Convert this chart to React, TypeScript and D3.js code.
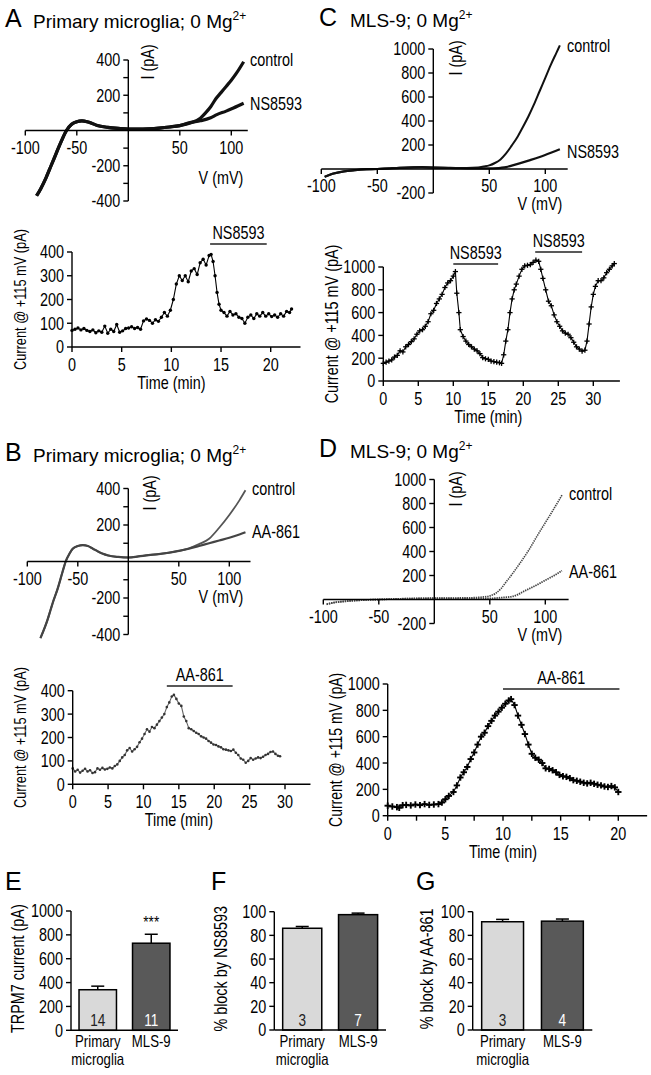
import * as d3 from "d3";
import type { ReactNode } from "react";

type Pt = [number, number];

const FONT = "'Liberation Sans', Arial, sans-serif";
const SX = 0.8; // horizontal squeeze, stands in for Arial Narrow

// ---------- I-V curves (V mV, I pA) ----------
const ivA_control: Pt[] = [[-89,-370],[-85,-330],[-80,-270],[-75,-200],[-70,-130],[-65,-60],[-60,0],[-55,35],[-50,50],[-45,55],[-40,50],[-35,40],[-30,28],[-20,18],[-10,12],[0,8],[10,8],[20,10],[30,14],[40,20],[50,28],[60,42],[70,70],[75,100],[80,135],[85,180],[90,215],[95,250],[100,285],[105,325],[112,390]];
const ivA_ns: Pt[] = [[-89,-370],[-85,-330],[-80,-270],[-75,-200],[-70,-130],[-65,-60],[-60,0],[-55,35],[-50,50],[-45,55],[-40,50],[-35,40],[-30,28],[-20,18],[-10,12],[0,8],[10,8],[20,10],[30,14],[40,20],[50,28],[60,45],[70,55],[80,72],[86,90],[95,110],[102,128],[112,155]];
const ivC_control: Pt[] = [[-97,-65],[-90,-40],[-80,-20],[-70,-10],[-60,-3],[-50,0],[-40,5],[-30,10],[-20,13],[-10,15],[0,12],[10,10],[20,8],[30,8],[40,12],[45,20],[50,30],[55,50],[60,80],[65,130],[70,195],[75,265],[80,350],[85,440],[90,540],[95,650],[100,760],[105,870],[110,970],[113,1030]];
const ivC_ns: Pt[] = [[-97,-65],[-90,-40],[-80,-20],[-70,-10],[-60,-3],[-50,0],[-40,5],[-30,10],[-20,13],[-10,15],[0,12],[10,10],[20,8],[30,6],[40,5],[50,6],[60,10],[65,15],[70,28],[77,47],[85,70],[95,100],[105,135],[113,165]];
const ivB_control: Pt[] = [[-87,-420],[-80,-320],[-77,-266],[-75,-230],[-70,-150],[-65,-55],[-62,0],[-58,45],[-55,70],[-50,85],[-45,90],[-40,85],[-35,70],[-30,55],[-25,42],[-20,33],[-10,25],[0,22],[10,28],[20,35],[30,40],[40,48],[50,58],[60,72],[70,95],[80,125],[90,185],[100,255],[110,335],[116,390]];
const ivB_aa: Pt[] = [[-87,-420],[-80,-320],[-77,-266],[-75,-230],[-70,-150],[-65,-55],[-62,0],[-58,45],[-55,70],[-50,85],[-45,90],[-40,85],[-35,70],[-30,55],[-25,42],[-20,33],[-10,25],[0,22],[10,28],[20,35],[30,40],[40,48],[50,58],[60,70],[70,85],[80,100],[90,115],[100,130],[110,148],[116,160]];
const ivD_control: Pt[] = [[-97,-40],[-90,-25],[-80,-15],[-70,-8],[-60,-3],[-50,0],[-40,3],[-30,6],[-20,8],[-10,10],[0,12],[10,12],[20,13],[30,14],[40,18],[50,30],[55,50],[60,90],[65,150],[70,210],[77,300],[85,410],[92,520],[100,640],[107,745],[115,870]];
const ivD_aa: Pt[] = [[-97,-40],[-90,-25],[-80,-15],[-70,-8],[-60,-3],[-50,0],[-40,3],[-30,6],[-20,8],[-10,10],[0,10],[10,9],[20,8],[30,8],[40,8],[50,9],[60,15],[70,25],[75,40],[80,65],[90,110],[100,160],[108,200],[115,240]];

// ---------- time courses (min, pA) ----------
const tA: Pt[] = [[0,70],[0.3,75],[0.6,80],[0.9,72],[1.2,78],[1.5,70],[1.8,65],[2.1,72],[2.4,60],[2.7,68],[3.0,62],[3.3,88],[3.6,58],[3.9,75],[4.2,65],[4.5,95],[4.8,62],[5.1,68],[5.4,78],[5.7,80],[6.0,85],[6.3,78],[6.6,82],[6.9,75],[7.2,110],[7.5,118],[7.8,112],[8.1,100],[8.4,115],[8.7,108],[9.0,125],[9.3,145],[9.6,130],[9.9,155],[10.2,200],[10.5,265],[10.8,300],[11.1,280],[11.4,300],[11.7,275],[12.0,320],[12.3,330],[12.6,305],[12.9,355],[13.2,370],[13.5,345],[13.8,385],[14.0,390],[14.2,360],[14.4,300],[14.6,230],[14.8,180],[15.0,155],[15.3,145],[15.6,130],[15.9,150],[16.2,135],[16.5,140],[16.8,125],[17.1,120],[17.4,100],[17.7,125],[18.0,135],[18.3,120],[18.6,140],[18.9,130],[19.2,145],[19.5,130],[19.8,140],[20.1,128],[20.4,135],[20.7,125],[21.0,140],[21.3,130],[21.6,150],[21.9,145],[22.1,160]];
const tB: Pt[] = [[0,68],[0.35,55],[0.7,62],[1.05,50],[1.4,58],[1.75,66],[2.1,55],[2.45,60],[2.8,48],[3.15,52],[3.5,68],[3.85,62],[4.2,70],[4.55,63],[4.9,66],[5.25,72],[5.6,68],[5.95,78],[6.3,85],[6.65,100],[7.0,115],[7.35,125],[7.7,145],[8.05,155],[8.4,140],[8.75,150],[9.1,160],[9.45,180],[9.8,195],[10.15,215],[10.5,235],[10.85,225],[11.2,245],[11.55,240],[11.9,255],[12.25,270],[12.6,285],[12.95,300],[13.3,330],[13.65,350],[14.0,375],[14.3,382],[14.65,365],[15.0,345],[15.35,335],[15.7,290],[16.05,270],[16.4,240],[16.75,235],[17.1,228],[17.45,220],[17.8,215],[18.15,205],[18.5,200],[18.85,195],[19.2,185],[19.55,178],[19.9,170],[20.25,168],[20.6,162],[20.95,158],[21.3,150],[21.65,148],[22.0,145],[22.35,142],[22.7,148],[23.05,135],[23.4,125],[23.75,110],[24.1,105],[24.45,92],[24.8,100],[25.15,112],[25.5,105],[25.85,110],[26.2,115],[26.55,112],[26.9,118],[27.25,125],[27.6,130],[27.95,138],[28.3,140],[28.65,130],[29.0,122],[29.3,120]];
const tC: Pt[] = [[0,155],[0.4,165],[0.8,175],[1.2,185],[1.6,210],[2.0,225],[2.4,265],[2.8,255],[3.2,300],[3.6,320],[4.0,345],[4.4,370],[4.8,410],[5.2,440],[5.6,450],[6.0,480],[6.4,520],[6.8,590],[7.2,620],[7.6,680],[8.0,720],[8.4,760],[8.8,820],[9.2,860],[9.6,880],[10.0,920],[10.3,960],[10.5,770],[10.8,600],[11.0,450],[11.4,390],[11.8,350],[12.2,320],[12.6,300],[13.0,280],[13.4,265],[13.8,240],[14.2,205],[14.6,195],[15.0,190],[15.4,175],[15.8,170],[16.2,165],[16.6,160],[16.9,155],[17.2,230],[17.5,350],[17.8,450],[18.1,600],[18.4,720],[18.7,800],[19.0,850],[19.4,920],[19.8,980],[20.2,1010],[20.6,1015],[21.0,1020],[21.4,1040],[21.8,1060],[22.2,1050],[22.5,980],[22.8,900],[23.2,800],[23.6,700],[24.0,660],[24.4,580],[24.8,520],[25.2,480],[25.6,440],[26.0,420],[26.4,410],[26.8,380],[27.2,340],[27.6,300],[28.0,280],[28.4,262],[28.8,270],[29.1,350],[29.4,500],[29.7,650],[30.0,760],[30.3,830],[30.7,880],[31.1,880],[31.5,905],[31.9,950],[32.3,980],[32.7,1010],[33.0,1030]];
const tD: Pt[] = [[0,76],[0.4,70],[0.8,65],[1.0,60],[1.3,80],[1.6,82],[2.0,78],[2.4,85],[2.8,80],[3.2,88],[3.6,82],[4.0,85],[4.4,88],[4.7,100],[5.0,125],[5.3,150],[5.7,180],[6.0,230],[6.3,290],[6.6,330],[6.9,370],[7.2,430],[7.5,480],[7.8,540],[8.1,600],[8.4,630],[8.7,680],[9.0,720],[9.3,760],[9.6,790],[9.9,820],[10.2,850],[10.5,875],[10.7,885],[11.0,840],[11.3,760],[11.6,690],[11.9,620],[12.2,540],[12.5,470],[12.8,440],[13.1,425],[13.4,400],[13.7,360],[14.0,355],[14.3,345],[14.6,330],[14.9,310],[15.2,300],[15.5,295],[15.8,285],[16.1,270],[16.4,265],[16.7,258],[17.0,250],[17.3,245],[17.6,250],[17.9,242],[18.2,235],[18.5,230],[18.8,222],[19.1,218],[19.4,225],[19.7,215],[20.0,180]];

// drug application periods [start, end] (min)
const drugA: Pt[] = [[13.9, 19.6]];
const drugB: Pt[] = [[13.3, 22.6]];
const drugC: Pt[] = [[10.0, 16.4], [21.7, 28.4]];
const drugD: Pt[] = [[10.0, 20.1]];

// ---------- bar summaries ----------
const groups = ["Primary microglia", "MLS-9"];
const eMean = [340, 730];
const eErr = [30, 75];
const eN = ["14", "11"];
const fMean = [86, 97.5];
const fErr = [1.5, 1.3];
const fN = ["3", "7"];
const gMean = [91.5, 92];
const gErr = [2, 1.8];
const gN = ["3", "4"];
const barFill = ["#d9d9d9", "#595959"];
const nColor = ["#222", "#fff"];

const ivXTicks = [-100, -50, 50, 100];

// squeezed text: anchor point (x, y), optional rotation
function NT(props: {
  x: number;
  y: number;
  anchor?: "start" | "middle" | "end";
  rot?: number;
  size?: number;
  fill?: string;
  dy?: string;
  children: ReactNode;
}) {
  const { x, y, anchor = "start", rot, size = 18, fill = "#000", dy, children } = props;
  const tr = `translate(${x},${y})${rot ? ` rotate(${rot})` : ""} scale(${SX},1)`;
  return (
    <text transform={tr} textAnchor={anchor} fontSize={size} fill={fill} dy={dy} fontFamily={FONT}>
      {children}
    </text>
  );
}

type Curve = { data: Pt[]; width: number; color: string; dash?: string };
type Lbl = { text: string; x: number; y: number };

function IVPanel(props: {
  x: d3.ScaleLinear<number, number>;
  y: d3.ScaleLinear<number, number>;
  xMax: number;
  yTicks: number[];
  yLabels: number[];
  curves: Curve[];
  labels: Lbl[];
  iPos: [number, number];
  vPos: [number, number];
}) {
  const { x, y, xMax, yTicks, yLabels, curves, labels, iPos, vPos } = props;
  const x0 = x(0);
  const y0 = y(0);
  const line = d3.line<Pt>().x((d) => x(d[0])).y((d) => y(d[1])).curve(d3.curveMonotoneX);
  return (
    <g>
      {curves.map((c, i) => (
        <path key={i} d={line(c.data) || ""} fill="none" stroke={c.color} strokeWidth={c.width} strokeDasharray={c.dash} />
      ))}
      <line x1={x(-100)} x2={x(xMax)} y1={y0} y2={y0} stroke="#000" strokeWidth={1.4} />
      <line x1={x0} x2={x0} y1={y(d3.min(yTicks)!)} y2={y(d3.max(yTicks)!)} stroke="#000" strokeWidth={1.4} />
      {yTicks.filter((t) => t !== 0).map((t) => (
        <line key={t} x1={x0 - 5} x2={x0} y1={y(t)} y2={y(t)} stroke="#000" strokeWidth={1.4} />
      ))}
      {yLabels.map((t) => (
        <NT key={t} x={x0 - 8} y={y(t)} dy="0.36em" anchor="end">{t}</NT>
      ))}
      {ivXTicks.map((t) => (
        <line key={t} x1={x(t)} x2={x(t)} y1={y0} y2={y0 + 5} stroke="#000" strokeWidth={1.4} />
      ))}
      {ivXTicks.map((t) => (
        <NT key={t} x={x(t)} y={y0 + 23} anchor="middle">{t}</NT>
      ))}
      {labels.map((l) => (
        <NT key={l.text} x={l.x} y={l.y}>{l.text}</NT>
      ))}
      <NT x={iPos[0]} y={iPos[1]} rot={-90} anchor="middle" dy="0.36em">I (pA)</NT>
      <NT x={vPos[0]} y={vPos[1]} anchor="middle">V (mV)</NT>
    </g>
  );
}

function TimePanel(props: {
  x: d3.ScaleLinear<number, number>;
  y: d3.ScaleLinear<number, number>;
  xMax: number;
  xTicks: number[];
  xLabels: number[];
  yTicks: number[];
  data: Pt[];
  marker: "dot" | "plus" | "bold" | "small";
  drug: Pt[];
  drugName: string;
  drugY: number[];
  yLabelSize: number;
  lineColor: string;
}) {
  const { x, y, xMax, xTicks, xLabels, yTicks, data, marker, drug, drugName, drugY, yLabelSize, lineColor } = props;
  const x0 = x(0);
  const y0 = y(0);
  const line = d3.line<Pt>().x((d) => x(d[0])).y((d) => y(d[1]));
  const yTop = y(d3.max(yTicks)!);
  return (
    <g>
      <path d={line(data) || ""} fill="none" stroke={lineColor} strokeWidth={1.1} />
      {data.map((d, i) => {
        const cx = x(d[0]);
        const cy = y(d[1]);
        if (marker === "dot") return <circle key={i} cx={cx} cy={cy} r={1.7} fill="#000" />;
        if (marker === "small") return <circle key={i} cx={cx} cy={cy} r={1.3} fill="#333" />;
        const s = marker === "bold" ? 3.2 : 2.6;
        const w = marker === "bold" ? 1.9 : 1.3;
        return (
          <g key={i} stroke="#000" strokeWidth={w}>
            <line x1={cx - s} x2={cx + s} y1={cy} y2={cy} />
            <line x1={cx} x2={cx} y1={cy - s} y2={cy + s} />
          </g>
        );
      })}
      <line x1={x0} x2={x(xMax)} y1={y0} y2={y0} stroke="#000" strokeWidth={1.4} />
      <line x1={x0} x2={x0} y1={y0} y2={yTop} stroke="#000" strokeWidth={1.4} />
      {yTicks.map((t) => (
        <g key={t}>
          <line x1={x0 - 5} x2={x0} y1={y(t)} y2={y(t)} stroke="#000" strokeWidth={1.4} />
          <NT x={x0 - 8} y={y(t)} dy="0.36em" anchor="end">{t}</NT>
        </g>
      ))}
      {xTicks.map((t) => (
        <line key={t} x1={x(t)} x2={x(t)} y1={y0} y2={y0 + 5} stroke="#000" strokeWidth={1.4} />
      ))}
      {xLabels.map((t) => (
        <NT key={t} x={x(t)} y={y0 + 24} anchor="middle">{t}</NT>
      ))}
      <NT x={(x0 + x(d3.max(xLabels)!)) / 2} y={y0 + 42} anchor="middle">Time (min)</NT>
      <NT x={x0 - 52} y={(y0 + yTop) / 2} rot={-90} anchor="middle" dy="0.36em" size={yLabelSize}>
        Current @ +115 mV (pA)
      </NT>
      {drug.map((d, i) => (
        <g key={i}>
          <line x1={x(d[0])} x2={x(d[1])} y1={drugY[i]} y2={drugY[i]} stroke="#222" strokeWidth={1.4} />
          <NT x={(x(d[0]) + x(d[1])) / 2} y={drugY[i] - 5} anchor="middle">{drugName}</NT>
        </g>
      ))}
    </g>
  );
}

function BarPanel(props: {
  left: number;
  right: number;
  y: d3.ScaleLinear<number, number>;
  yTicks: number[];
  mean: number[];
  err: number[];
  n: string[];
  star?: string;
  yLabel: string;
  yLabelX: number;
}) {
  const { left, right, y, yTicks, mean, err, n, star, yLabel, yLabelX } = props;
  const xb = d3.scaleBand<string>().domain(groups).range([left, right]).paddingInner(0.3).paddingOuter(0.15);
  const y0 = y(0);
  const yTop = y(d3.max(yTicks)!);
  return (
    <g>
      {groups.map((g, i) => {
        const bx = xb(g)!;
        const bw = xb.bandwidth();
        const cx = bx + bw / 2;
        return (
          <g key={g}>
            <line x1={cx} x2={cx} y1={y(mean[i])} y2={y(mean[i] + err[i])} stroke="#000" strokeWidth={1.5} />
            <line x1={cx - 6.5} x2={cx + 6.5} y1={y(mean[i] + err[i])} y2={y(mean[i] + err[i])} stroke="#000" strokeWidth={1.5} />
            <rect x={bx} y={y(mean[i])} width={bw} height={y0 - y(mean[i])} fill={barFill[i]} stroke="#000" strokeWidth={1.5} />
            <NT x={cx} y={y0 - 4} anchor="middle" fill={nColor[i]} size={17}>{n[i]}</NT>
            {i === 0 ? (
              <>
                <NT x={cx} y={y0 + 17} anchor="middle" size={16.5}>Primary</NT>
                <NT x={cx} y={y0 + 35} anchor="middle" size={16.5}>microglia</NT>
              </>
            ) : (
              <NT x={cx} y={y0 + 17} anchor="middle" size={16.5}>{g}</NT>
            )}
            {star && i === 1 ? (
              <NT x={cx} y={y(mean[i] + err[i]) - 6} anchor="middle" size={17}>{star}</NT>
            ) : null}
          </g>
        );
      })}
      <line x1={left} x2={right} y1={y0} y2={y0} stroke="#000" strokeWidth={1.4} />
      <line x1={left} x2={left} y1={y0} y2={yTop} stroke="#000" strokeWidth={1.4} />
      {yTicks.map((t) => (
        <g key={t}>
          <line x1={left - 5} x2={left} y1={y(t)} y2={y(t)} stroke="#000" strokeWidth={1.4} />
          <NT x={left - 8} y={y(t)} dy="0.36em" anchor="end">{t}</NT>
        </g>
      ))}
      <NT x={yLabelX} y={(y0 + yTop) / 2 - 2} rot={-90} anchor="middle" dy="0.36em">{yLabel}</NT>
    </g>
  );
}

function Title(props: { letter: string; lx: number; tx: number; y: number; text: string }) {
  return (
    <g fontFamily={FONT}>
      <text x={props.lx} y={props.y} fontSize={25}>{props.letter}</text>
      {props.text ? (
        <text x={props.tx} y={props.y + 1} fontSize={19}>
          {props.text}
          <tspan dy={-8} fontSize={12}>2+</tspan>
        </text>
      ) : null}
    </g>
  );
}

export default function App() {
  const ivTicks400 = [-400, -300, -200, -100, 0, 100, 200, 300, 400];
  const ivLab400 = [-400, -200, 200, 400];
  const ivTicks1000 = [-200, 0, 200, 400, 600, 800, 1000];
  const ivLab1000 = [-200, 200, 400, 600, 800, 1000];

  const axA = d3.scaleLinear().domain([-100, 100]).range([25.3, 231.3]);
  const ayA = d3.scaleLinear().domain([-400, 400]).range([201, 60]);
  const axC = d3.scaleLinear().domain([-100, 100]).range([321.3, 545.3]);
  const ayC = d3.scaleLinear().domain([-200, 1000]).range([193, 49]);
  const axB = d3.scaleLinear().domain([-100, 100]).range([27.3, 229.3]);
  const ayB = d3.scaleLinear().domain([-400, 400]).range([634.5, 488.5]);
  const axD = d3.scaleLinear().domain([-100, 100]).range([323.3, 545.3]);
  const ayD = d3.scaleLinear().domain([-200, 1000]).range([623.5, 479.5]);

  const txA = d3.scaleLinear().domain([0, 20]).range([72, 270.7]);
  const tyA = d3.scaleLinear().domain([0, 400]).range([347, 252]);
  const txC = d3.scaleLinear().domain([0, 30]).range([383.3, 593.3]);
  const tyC = d3.scaleLinear().domain([0, 1000]).range([381, 267]);
  const txB = d3.scaleLinear().domain([0, 30]).range([72.7, 285]);
  const tyB = d3.scaleLinear().domain([0, 400]).range([784.3, 690.7]);
  const txD = d3.scaleLinear().domain([0, 20]).range([387.7, 618.3]);
  const tyD = d3.scaleLinear().domain([0, 1000]).range([815.7, 684]);

  const eY = d3.scaleLinear().domain([0, 1000]).range([1030.3, 911]);
  const fgY = d3.scaleLinear().domain([0, 100]).range([1030, 911.7]);

  return (
    <svg width={651} height={1075} style={{ position: "absolute", left: 0, top: 0, background: "#fff" }}>
      <Title letter="A" lx={5} tx={33} y={27} text="Primary microglia; 0 Mg" />
      <Title letter="C" lx={319} tx={350} y={26} text="MLS-9; 0 Mg" />
      <Title letter="B" lx={5} tx={33} y={461} text="Primary microglia; 0 Mg" />
      <Title letter="D" lx={319} tx={350} y={457} text="MLS-9; 0 Mg" />
      <Title letter="E" lx={5} y={890} tx={0} text="" />
      <Title letter="F" lx={211} y={890} tx={0} text="" />
      <Title letter="G" lx={416} y={890} tx={0} text="" />

      <IVPanel x={axA} y={ayA} xMax={116} yTicks={ivTicks400} yLabels={ivLab400}
        curves={[{ data: ivA_control, width: 3.2, color: "#111" }, { data: ivA_ns, width: 3.2, color: "#111" }]}
        labels={[{ text: "control", x: 250, y: 66 }, { text: "NS8593", x: 250, y: 110 }]}
        iPos={[148, 62]} vPos={[221, 184]} />
      <IVPanel x={axC} y={ayC} xMax={120} yTicks={ivTicks1000} yLabels={ivLab1000}
        curves={[{ data: ivC_control, width: 2, color: "#111" }, { data: ivC_ns, width: 2.2, color: "#111" }]}
        labels={[{ text: "control", x: 567, y: 52 }, { text: "NS8593", x: 567, y: 158 }]}
        iPos={[456, 58]} vPos={[540, 210]} />
      <IVPanel x={axB} y={ayB} xMax={121} yTicks={ivTicks400} yLabels={ivLab400}
        curves={[{ data: ivB_control, width: 1.8, color: "#555" }, { data: ivB_aa, width: 2.2, color: "#444" }]}
        labels={[{ text: "control", x: 252, y: 495 }, { text: "AA-861", x: 252, y: 538 }]}
        iPos={[150, 493]} vPos={[221, 603]} />
      <IVPanel x={axD} y={ayD} xMax={121} yTicks={ivTicks1000} yLabels={ivLab1000}
        curves={[{ data: ivD_control, width: 1.6, color: "#444", dash: "1.4 0.9" }, { data: ivD_aa, width: 1.8, color: "#444", dash: "1.4 0.9" }]}
        labels={[{ text: "control", x: 569, y: 500 }, { text: "AA-861", x: 569, y: 578 }]}
        iPos={[456, 489]} vPos={[540, 641]} />

      <TimePanel x={txA} y={tyA} xMax={23} xTicks={[0, 5, 10, 15, 20]} xLabels={[0, 5, 10, 15, 20]}
        yTicks={[0, 100, 200, 300, 400]} data={tA} marker="dot" drug={drugA} drugName="NS8593" drugY={[244]}
        yLabelSize={16} lineColor="#000" />
      <TimePanel x={txC} y={tyC} xMax={33.8} xTicks={[0, 5, 10, 15, 20, 25, 30]} xLabels={[0, 5, 10, 15, 20, 25, 30]}
        yTicks={[0, 200, 400, 600, 800, 1000]} data={tC} marker="plus" drug={drugC} drugName="NS8593" drugY={[264, 252]}
        yLabelSize={18} lineColor="#000" />
      <TimePanel x={txB} y={tyB} xMax={33.6} xTicks={[0, 5, 10, 15, 20, 25, 30]} xLabels={[0, 5, 10, 15, 20, 25, 30]}
        yTicks={[0, 100, 200, 300, 400]} data={tB} marker="small" drug={drugB} drugName="AA-861" drugY={[686]}
        yLabelSize={16} lineColor="#666" />
      <TimePanel x={txD} y={tyD} xMax={22.5} xTicks={[0, 2.5, 5, 7.5, 10, 12.5, 15, 17.5, 20]} xLabels={[0, 5, 10, 15, 20]}
        yTicks={[0, 200, 400, 600, 800, 1000]} data={tD} marker="bold" drug={drugD} drugName="AA-861" drugY={[689]}
        yLabelSize={17.5} lineColor="#000" />

      <BarPanel left={71} right={178} y={eY} yTicks={[0, 200, 400, 600, 800, 1000]} mean={eMean} err={eErr} n={eN}
        star="***" yLabel="TRPM7 current (pA)" yLabelX={18} />
      <BarPanel left={274.3} right={386} y={fgY} yTicks={[0, 20, 40, 60, 80, 100]} mean={fMean} err={fErr} n={fN}
        yLabel="% block by NS8593" yLabelX={221} />
      <BarPanel left={472.7} right={592.3} y={fgY} yTicks={[0, 20, 40, 60, 80, 100]} mean={gMean} err={gErr} n={gN}
        yLabel="% block by AA-861" yLabelX={427} />
    </svg>
  );
}
